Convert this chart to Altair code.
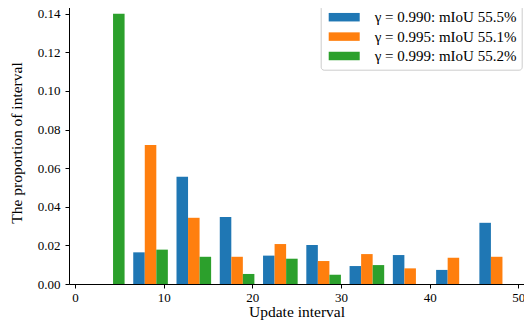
import altair as alt
import pandas as pd

# histogram bin edges (update interval)
bin_edges = [1.2, 6.08, 10.96, 15.84, 20.72, 25.6, 30.48, 35.36, 40.24, 45.12, 50.0]

series_names = [
    "γ = 0.990: mIoU 55.5%",
    "γ = 0.995: mIoU 55.1%",
    "γ = 0.999: mIoU 55.2%",
]
vals_0990 = [0.0, 0.0164, 0.0556, 0.0347, 0.0147, 0.0202, 0.0093, 0.0150, 0.0073, 0.0317]
vals_0995 = [0.0, 0.0720, 0.0343, 0.0141, 0.0207, 0.0119, 0.0155, 0.0081, 0.0136, 0.0141]
vals_0999 = [0.1400, 0.0178, 0.0141, 0.0052, 0.0131, 0.0048, 0.0098, 0.0, 0.0, 0.0]
colors = ["#1f77b4", "#ff7f0e", "#2ca02c"]

x_ticks = [0, 10, 20, 30, 40, 50]
y_ticks = [0.0, 0.02, 0.04, 0.06, 0.08, 0.10, 0.12, 0.14]

rows = []
n = len(series_names)
for i, (name, vals) in enumerate(zip(series_names, [vals_0990, vals_0995, vals_0999])):
    for k, v in enumerate(vals):
        lo, hi = bin_edges[k], bin_edges[k + 1]
        w = hi - lo
        bw = 0.8 * w / n
        x0 = lo + 0.1 * w + i * bw
        rows.append({"series": name, "x0": x0, "x1": x0 + bw, "value": v, "order": i})
df = pd.DataFrame(rows)

FONT = "Liberation Serif"

chart = (
    alt.Chart(df)
    .mark_bar()
    .encode(
        x=alt.X(
            "x0:Q",
            scale=alt.Scale(domain=[-0.677, 50.64], nice=False, zero=False),
            axis=alt.Axis(
                values=x_ticks, format="d", title="Update interval",
                labelFontSize=13, titleFontSize=15.5, titlePadding=0.5,
                tickSize=4, labelPadding=3,
            ),
        ),
        x2="x1:Q",
        y=alt.Y(
            "value:Q",
            scale=alt.Scale(domain=[0, 0.1466], nice=False),
            axis=alt.Axis(
                values=y_ticks, format=".2f", title="The proportion of interval",
                labelFontSize=13, titleFontSize=15.5, titlePadding=13,
                tickSize=4, labelPadding=5,
            ),
        ),
        y2=alt.datum(0),
        color=alt.Color(
            "series:N",
            scale=alt.Scale(domain=series_names, range=colors),
            legend=alt.Legend(
                title=None,
                orient="none",
                legendX=251.7,
                legendY=3.7,
                symbolType="M-1,-0.944H5.89V0.944H-1Z",
                symbolSize=81,
                symbolStrokeWidth=0,
                symbolOpacity=1,
                labelFont=FONT,
                labelFontSize=15,
                labelColor="black",
                labelOffset=34,
                rowPadding=3.4,
                padding=5,
                fillColor="white",
                strokeColor="#cccccc",
                cornerRadius=3,
            ),
        ),
        order=alt.Order("order:Q"),
    )
    .properties(
        width=455,
        height=283,
        padding={"left": 61, "top": -7, "right": 0, "bottom": 36},
        autosize=alt.AutoSizeParams(type="none"),
    )
    .configure_view(stroke=None)
    .configure_axis(
        grid=False,
        domainColor="black",
        tickColor="black",
        labelColor="black",
        titleColor="black",
        labelFont=FONT,
        titleFont=FONT,
        titleFontWeight="normal",
        domainWidth=1,
    )
)

chart.save("out.html", embed_options={"renderer": "svg", "actions": False})
